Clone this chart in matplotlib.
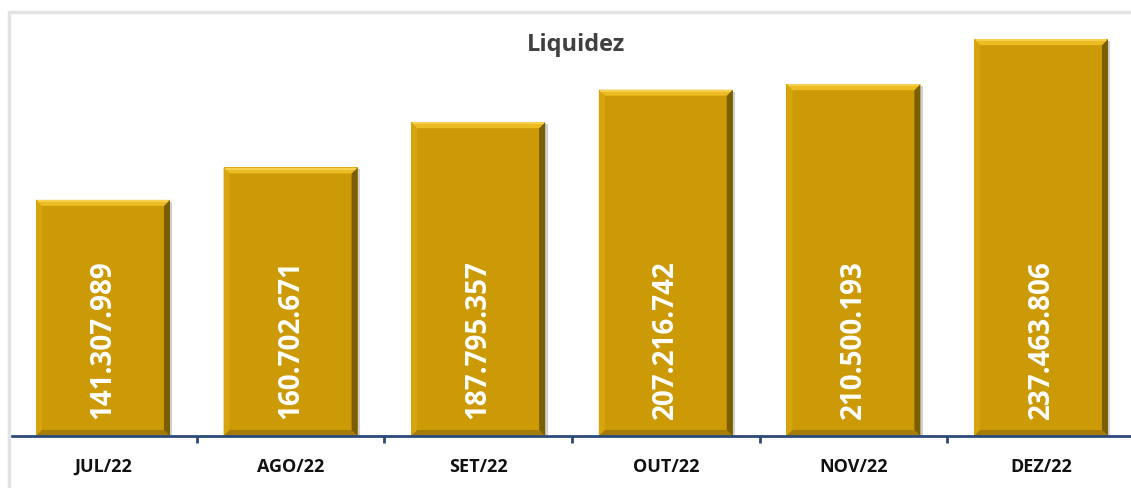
import matplotlib
matplotlib.use("Agg")
import matplotlib.pyplot as plt
from matplotlib.patches import Polygon, Rectangle

# data
months = ["JUL/22", "AGO/22", "SET/22", "OUT/22", "NOV/22", "DEZ/22"]
liquidez = [141307989, 160702671, 187795357, 207216742, 210500193, 237463806]
value_labels = ["141.307.989", "160.702.671", "187.795.357",
                "207.216.742", "210.500.193", "237.463.806"]
title = "Liquidez"

W, H, DPI = 1131, 489, 100
fig = plt.figure(figsize=(W / DPI, H / DPI), dpi=DPI)

# light grey frame around the chart area
fig.patches.append(Rectangle((9 / W, -0.05), 1.1, 1 - 13 / H + 0.05,
                             transform=fig.transFigure, fill=False,
                             edgecolor="#e3e3e3", linewidth=2.5))

ax_left, ax_bottom = 9.2 / W, (H - 437) / H
ax_w, ax_h = 6 * 187.6 / W, 417.8 / H
ax = fig.add_axes([ax_left, ax_bottom, ax_w, ax_h])
ax.set_xlim(-0.5, len(months) - 0.5)
ymax = 250e6
ax.set_ylim(0, ymax)
ax.patch.set_alpha(0)

# pixel -> data conversions
pxx = len(months) / (ax_w * W)
pxy = ymax / (ax_h * H)

face = "#CC9A06"
bw = 0.714
b = 6  # bevel in px
bars = ax.bar(range(len(months)), liquidez, width=bw, color=face, zorder=2)

for rect in bars:
    x0 = rect.get_x()
    x1 = x0 + rect.get_width()
    y0 = 0
    y1 = rect.get_height()
    bx, by = b * pxx, b * pxy
    # soft shadow on the right
    ax.add_patch(Rectangle((x1, y0), 2.5 * pxx, y1 - 2 * pxy,
                           color="#8a8a8a", alpha=0.4, lw=0, zorder=1))
    top = [(x0, y1), (x1, y1), (x1 - bx, y1 - by), (x0 + bx, y1 - by)]
    right = [(x1, y1), (x1, y0), (x1 - bx, y0 + by), (x1 - bx, y1 - by)]
    bottom = [(x0, y0), (x1, y0), (x1 - bx, y0 + by), (x0 + bx, y0 + by)]
    left = [(x0, y0), (x0, y1), (x0 + bx, y1 - by), (x0 + bx, y0 + by)]
    ax.add_patch(Polygon(left, closed=True, color="#D6A40E", lw=0, zorder=3))
    ax.add_patch(Polygon(bottom, closed=True, color="#A57C05", lw=0, zorder=3))
    ax.add_patch(Polygon(right, closed=True, color="#7A5E04", lw=0, zorder=3))
    ax.add_patch(Polygon(top, closed=True, color="#EDBC22", lw=0, zorder=3))
    ax.plot([x0 + 1.5 * pxx, x1 - 1.5 * pxx], [y1 - 1.2 * pxy] * 2,
            color="#F8D45A", lw=1.2, zorder=4, solid_capstyle="butt")

for i, lab in enumerate(value_labels):
    ax.text(i, 18 * pxy, lab, rotation=90, ha="center", va="bottom",
            color="white", fontsize=20, fontweight="bold",
            family=["Open Sans", "DejaVu Sans"], zorder=5)

# axes styling
for s in ["top", "right", "left"]:
    ax.spines[s].set_visible(False)
ax.spines["bottom"].set_color("#2B4A7A")
ax.spines["bottom"].set_linewidth(2)
ax.spines["bottom"].set_zorder(6)
ax.set_yticks([])
ax.set_xticks(range(len(months)))
ax.set_xticklabels(months, fontsize=13, fontweight="bold",
                   family=["Open Sans", "DejaVu Sans"], color="#111111")
ax.tick_params(axis="x", which="major", length=0, pad=15)
ax.set_xticks([i + 0.5 for i in range(len(months) - 1)], minor=True)
ax.tick_params(axis="x", which="minor", length=5, width=2, color="#2B4A7A",
               direction="out")

fig.text(576 / W, 1 - 45 / H, title, ha="center", va="center",
         fontsize=17, fontweight="bold", color="#404040",
         family=["Open Sans", "DejaVu Sans"])

fig.savefig("out.png", dpi=DPI)
